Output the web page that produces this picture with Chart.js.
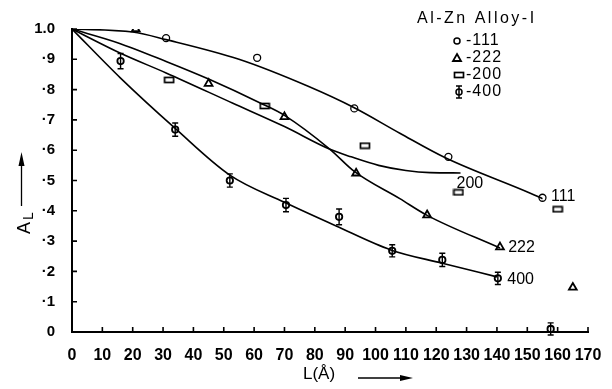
<!DOCTYPE html>
<html>
<head>
<meta charset="utf-8">
<script src="https://cdn.jsdelivr.net/npm/chart.js@4.4.1/dist/chart.umd.min.js"></script>
<style>
  html, body { margin: 0; padding: 0; background: #fff; }
  canvas { display: block; }
</style>
</head>
<body>
<canvas id="c" width="612" height="389"></canvas>
<script>
// fitted curves
const curveX111 = [0, 20, 31, 55, 78, 93, 108, 123, 151, 155];
const curveY111 = [1.0, 0.99, 0.965, 0.90, 0.81, 0.74, 0.656, 0.575, 0.458, 0.44];
const curveX222 = [0, 15, 31, 45, 62, 70, 85, 93, 108, 117, 141];
const curveY222 = [1.0, 0.955, 0.893, 0.835, 0.756, 0.715, 0.603, 0.53, 0.44, 0.385, 0.277];
const curveX200 = [0, 16, 31, 53, 70, 85, 92, 101, 110, 118, 128];
const curveY200 = [1.0, 0.92, 0.855, 0.755, 0.678, 0.603, 0.578, 0.55, 0.533, 0.526, 0.525];
const curveX400 = [0, 16, 34, 52, 70, 87, 105, 122, 140];
const curveY400 = [1.0, 0.838, 0.672, 0.518, 0.428, 0.35, 0.271, 0.227, 0.182];

// measured points
const pts111X = [31, 61, 93, 124, 155];
const pts111Y = [0.97, 0.905, 0.738, 0.578, 0.443];
const pts222X = [21, 45, 70, 93.6, 117, 141, 165];
const pts222Y = [1.0, 0.82, 0.71, 0.524, 0.386, 0.28, 0.147];
const pts200X = [32, 63.5, 96.5, 127.3, 160];
const pts200Y = [0.832, 0.746, 0.615, 0.461, 0.405];
const pts400X = [16, 34, 52, 70.5, 88, 105.5, 122, 140.3, 157.7];
const pts400Y = [0.894, 0.668, 0.50, 0.419, 0.38, 0.268, 0.238, 0.177, 0.01];
const err400 = [0.025, 0.022, 0.022, 0.022, 0.026, 0.02, 0.022, 0.02, 0.02];

const xTickLabels = ['0','10','20','30','40','50','60','70','80','90','100','110','120','130','140','150','160','170'];
const yTickLabels = ['0','·1','·2','·3','·4','·5','·6','·7','·8','·9','1.0'];

const legendTitle = 'Al-Zn Alloy-I';
const legendNames = ['-111', '-222', '-200', '-400'];
const curveNames = ['111', '222', '200', '400'];
const curveLabelX = [157.8, 143.7, 126.7, 143.4];
const curveLabelY = [0.447, 0.28, 0.49, 0.172];

const FONT = '"Liberation Sans", Arial, sans-serif';
const xy = (xs, ys) => xs.map((v, i) => ({ x: v, y: ys[i] }));

function rectMarker() {
  const c = document.createElement('canvas');
  c.width = 12; c.height = 8;
  const g = c.getContext('2d');
  g.lineWidth = 1.7;
  g.strokeStyle = '#000';
  g.strokeRect(1.5, 1.5, 9, 5);
  return c;
}
const rectImg = rectMarker();

const curve = (xs, ys) => ({
  type: 'line', data: xy(xs, ys), borderColor: '#000', borderWidth: 1.6,
  pointRadius: 0, tension: 0.4, cubicInterpolationMode: 'monotone', fill: false
});
const pts = (xs, ys, style, r, bw) => ({
  type: 'scatter', data: xy(xs, ys), pointStyle: style, pointRadius: r,
  borderColor: '#000', backgroundColor: '#fff', borderWidth: bw, showLine: false
});

function drawErr(ctx, px, top, bot) {
  ctx.beginPath();
  ctx.moveTo(px, top); ctx.lineTo(px, bot);
  ctx.moveTo(px - 3, top); ctx.lineTo(px + 3, top);
  ctx.moveTo(px - 3, bot); ctx.lineTo(px + 3, bot);
  ctx.stroke();
}

const overlay = {
  id: 'overlay',
  afterDraw(chart) {
    const { ctx, scales: { x, y } } = chart;
    ctx.save();
    ctx.strokeStyle = '#000';
    ctx.fillStyle = '#000';

    // inward ticks
    ctx.lineWidth = 1.6;
    ctx.beginPath();
    xTickLabels.forEach((_, i) => {
      const px = x.getPixelForValue(i * 10);
      ctx.moveTo(px, y.bottom); ctx.lineTo(px, y.bottom - 5);
    });
    yTickLabels.forEach((_, i) => {
      const py = y.getPixelForValue(i / 10);
      ctx.moveTo(x.left, py); ctx.lineTo(x.left + 5, py);
    });
    ctx.stroke();

    // error bars on 400
    ctx.lineWidth = 1.4;
    pts400X.forEach((v, i) => {
      const px = x.getPixelForValue(v);
      drawErr(ctx, px, y.getPixelForValue(pts400Y[i] + err400[i]), y.getPixelForValue(pts400Y[i] - err400[i]));
    });

    // curve end labels
    ctx.font = '16px ' + FONT;
    ctx.textBaseline = 'middle';
    ctx.textAlign = 'left';
    curveNames.forEach((t, i) => {
      ctx.fillText(t, x.getPixelForValue(curveLabelX[i]), y.getPixelForValue(curveLabelY[i]));
    });

    // legend
    ctx.letterSpacing = '2.5px';
    ctx.fillText(legendTitle, 417, 18.5);
    ctx.letterSpacing = '1px';
    const rows = [41, 58, 75, 92];
    legendNames.forEach((t, i) => ctx.fillText(t, 466, rows[i]));
    ctx.letterSpacing = '0px';
    ctx.lineWidth = 1.5;
    ctx.beginPath(); ctx.arc(457, rows[0], 3, 0, Math.PI * 2); ctx.stroke();
    ctx.beginPath();
    ctx.moveTo(457, rows[1] - 4); ctx.lineTo(461, rows[1] + 3); ctx.lineTo(453, rows[1] + 3); ctx.closePath();
    ctx.lineWidth = 1.8; ctx.stroke();
    ctx.drawImage(rectImg, 453, rows[2] - 4);
    ctx.lineWidth = 1.5;
    ctx.beginPath(); ctx.arc(459, rows[3], 3, 0, Math.PI * 2); ctx.stroke();
    drawErr(ctx, 459, rows[3] - 6, rows[3] + 6);

    // x title with arrow
    ctx.font = '17px ' + FONT;
    ctx.fillText('L(Å)', 303, 374);
    ctx.lineWidth = 1.3;
    ctx.beginPath(); ctx.moveTo(358, 378); ctx.lineTo(402, 378); ctx.stroke();
    ctx.beginPath(); ctx.moveTo(413, 378); ctx.lineTo(400, 375); ctx.lineTo(400, 381); ctx.closePath(); ctx.fill();

    // y title with arrow
    ctx.save();
    ctx.translate(25, 234);
    ctx.rotate(-Math.PI / 2);
    ctx.font = '18px ' + FONT;
    ctx.fillText('A', 0, 0);
    ctx.font = '14px ' + FONT;
    ctx.fillText('L', 14, 4);
    ctx.restore();
    ctx.beginPath(); ctx.moveTo(21.5, 206); ctx.lineTo(21.5, 162); ctx.stroke();
    ctx.beginPath(); ctx.moveTo(21.5, 152); ctx.lineTo(18.5, 166); ctx.lineTo(24.5, 166); ctx.closePath(); ctx.fill();

    ctx.restore();
  }
};

new Chart(document.getElementById('c'), {
  data: {
    datasets: [
      curve(curveX111, curveY111),
      curve(curveX222, curveY222),
      curve(curveX200, curveY200),
      curve(curveX400, curveY400),
      pts(pts111X, pts111Y, 'circle', 3.5, 1.3),
      pts(pts222X, pts222Y, 'triangle', 4.5, 1.8),
      pts(pts200X, pts200Y, rectImg, 5, 1),
      pts(pts400X, pts400Y, 'circle', 3.2, 1.8)
    ]
  },
  options: {
    responsive: false,
    animation: false,
    events: [],
    layout: { padding: { left: 0, top: 29, right: 24, bottom: 0 } },
    plugins: { legend: { display: false }, tooltip: { enabled: false } },
    scales: {
      x: {
        type: 'linear', min: 0, max: 170,
        grid: { display: false },
        border: { display: true, color: '#000', width: 2 },
        ticks: {
          stepSize: 10, color: '#000', padding: 6, maxRotation: 0, autoSkip: false,
          font: { family: FONT, size: 16, weight: 'bold' },
          callback: (v) => xTickLabels[Math.round(v / 10)]
        },
        afterFit: (s) => { s.height = 57; }
      },
      y: {
        type: 'linear', min: 0, max: 1,
        grid: { display: false },
        border: { display: true, color: '#000', width: 2 },
        ticks: {
          stepSize: 0.1, color: '#000', padding: 9,
          font: { family: FONT, size: 15, weight: 'bold' },
          callback: (v) => yTickLabels[Math.round(v * 10)]
        },
        afterFit: (s) => { s.width = 72; }
      }
    }
  },
  plugins: [overlay]
});
</script>
</body>
</html>
